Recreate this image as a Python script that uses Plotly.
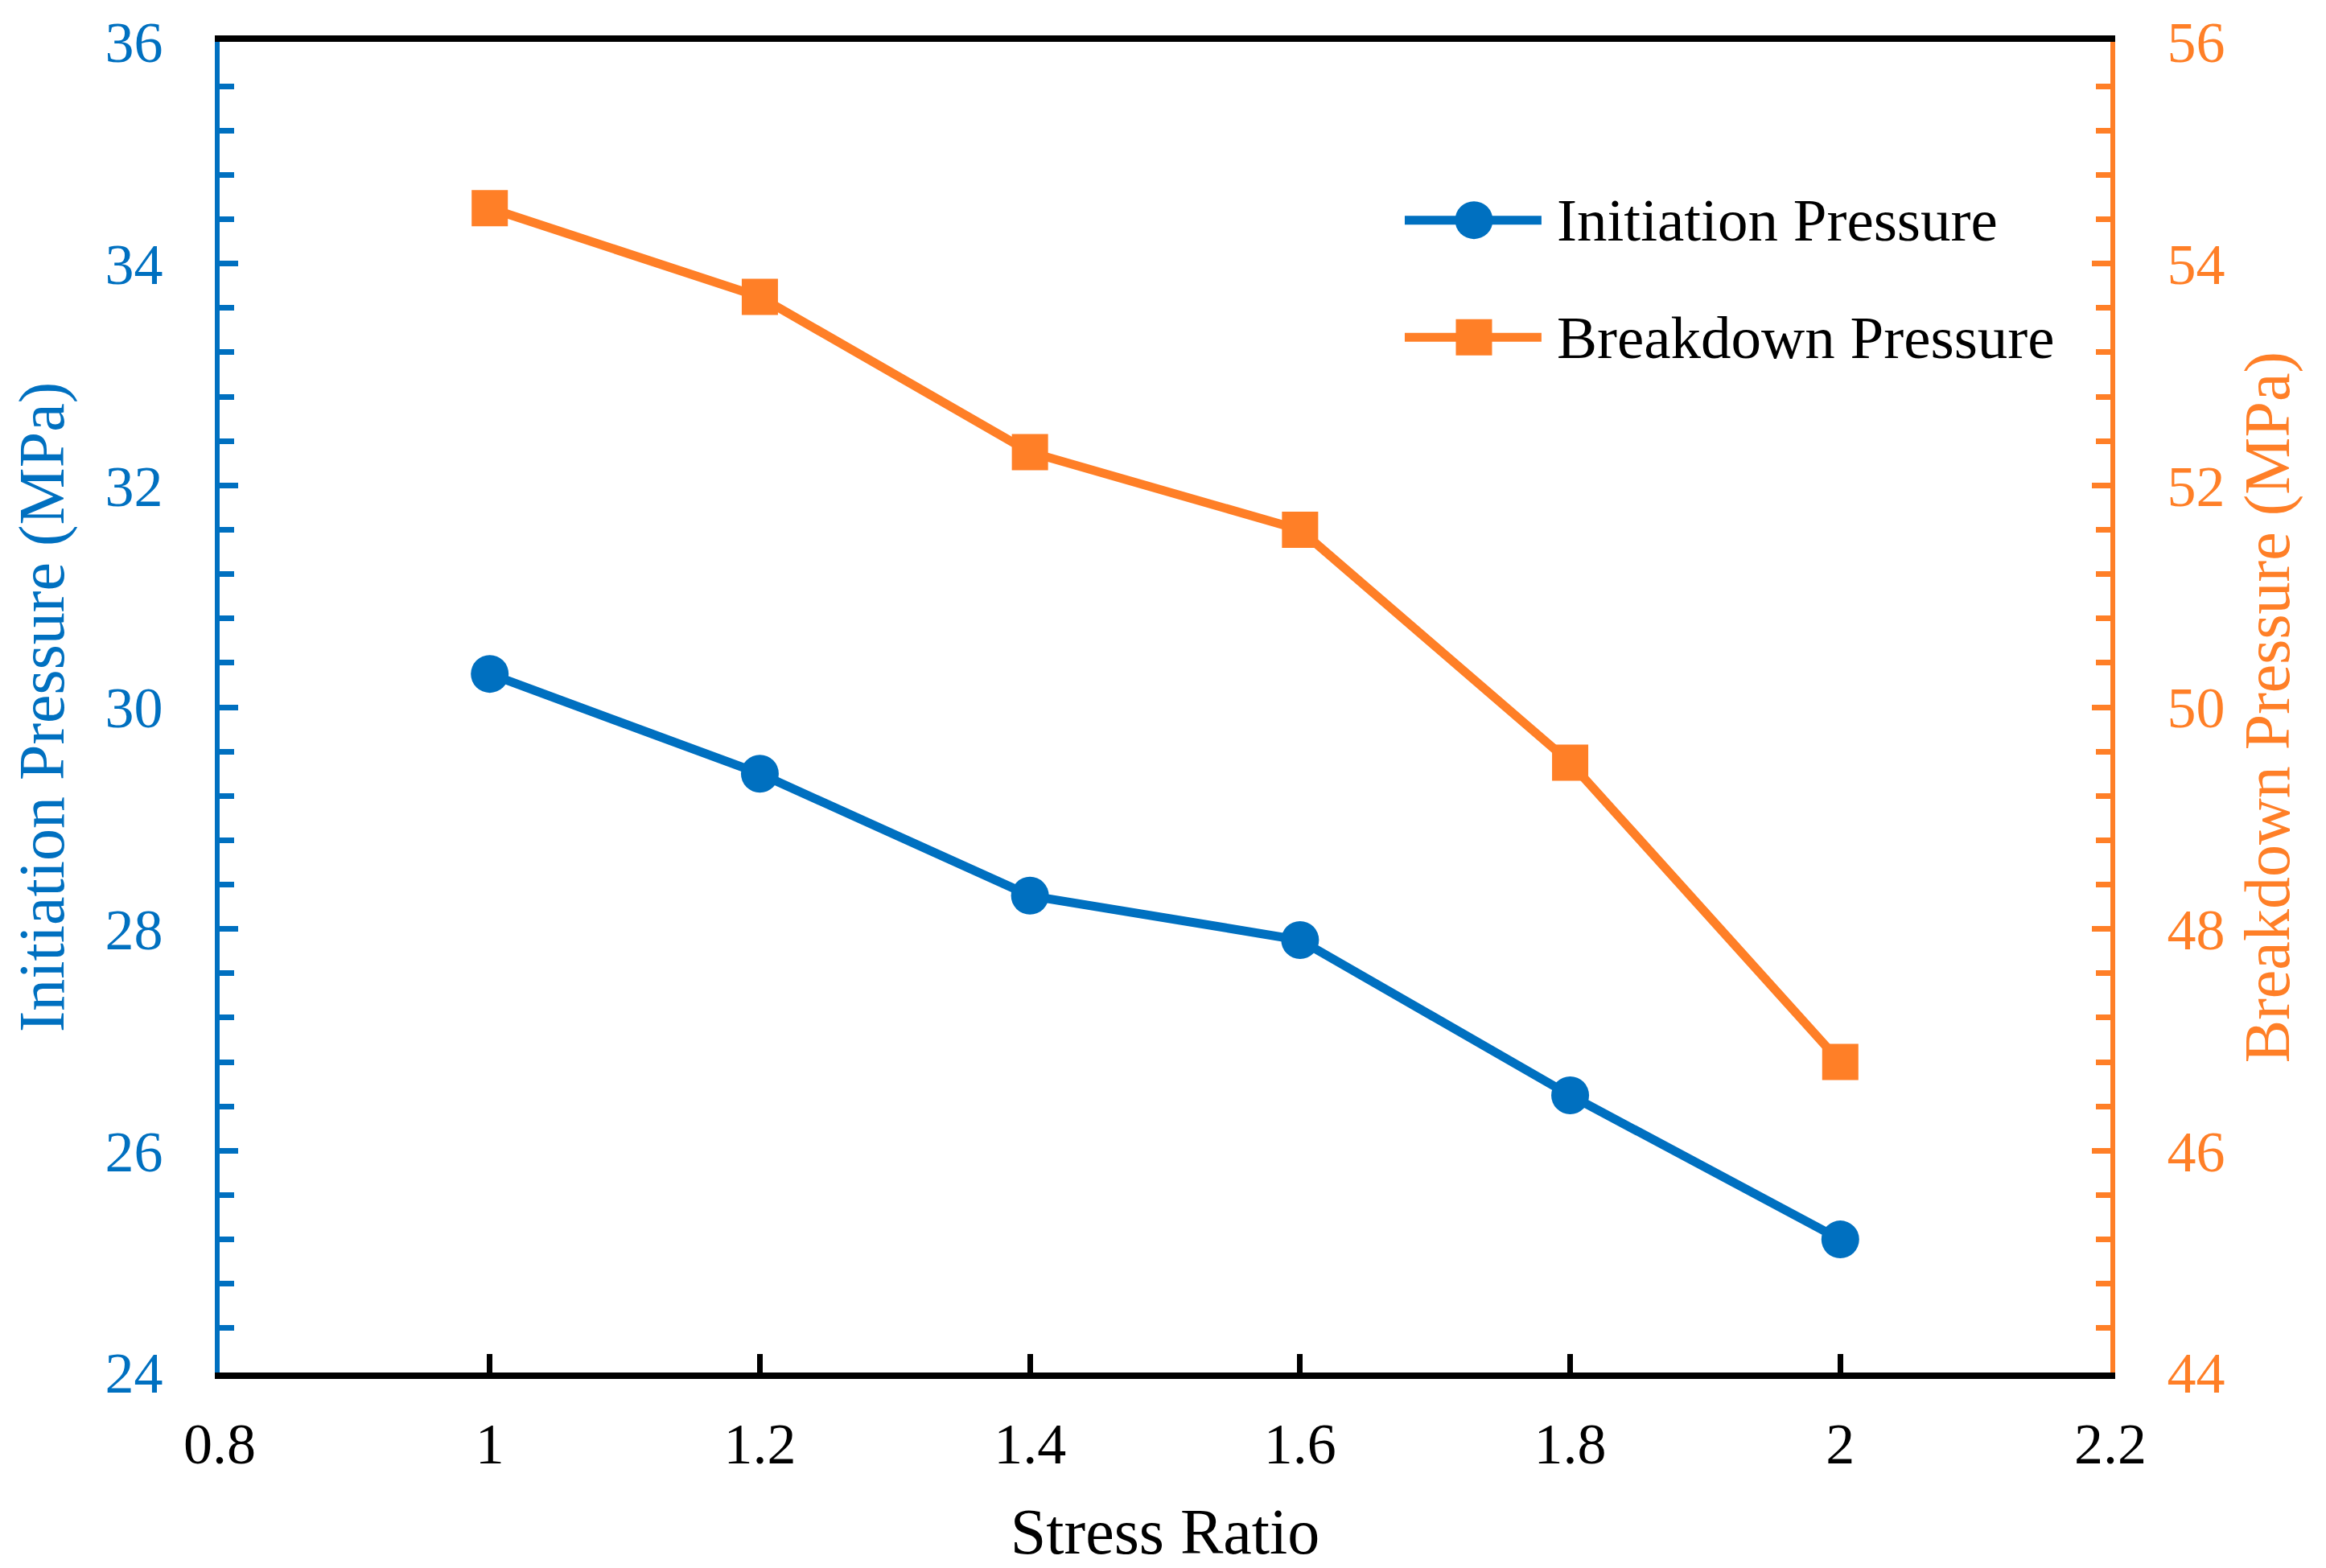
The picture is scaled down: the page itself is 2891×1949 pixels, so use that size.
import plotly.graph_objects as go

# ---------------- data ----------------
stress_ratio = [1.0, 1.2, 1.4, 1.6, 1.8, 2.0]
initiation_pressure = [30.3, 29.4, 28.3, 27.9, 26.5, 25.2]
breakdown_pressure = [54.5, 53.7, 52.3, 51.6, 49.5, 46.8]

x_tick_vals = [0.8, 1.0, 1.2, 1.4, 1.6, 1.8, 2.0, 2.2]
x_tick_text = ["0.8", "1", "1.2", "1.4", "1.6", "1.8", "2", "2.2"]
left_tick_vals = [24, 26, 28, 30, 32, 34, 36]
right_tick_vals = [44, 46, 48, 50, 52, 54, 56]

series_names = ["Initiation Pressure", "Breakdown Pressure"]

# ---------------- styles ----------------
BLUE = "#0070C0"
ORANGE = "#FF7F27"
FONT = "Liberation Serif"
TICK_SIZE = 72
TITLE_SIZE = 80
LINE_W = 11

fig = go.Figure()

fig.add_trace(go.Scatter(
    x=stress_ratio, y=initiation_pressure, name=series_names[0],
    mode="lines+markers",
    line=dict(color=BLUE, width=LINE_W),
    marker=dict(symbol="circle", size=47, color=BLUE),
    xaxis="x", yaxis="y", showlegend=False,
))
fig.add_trace(go.Scatter(
    x=stress_ratio, y=breakdown_pressure, name=series_names[1],
    mode="lines+markers",
    line=dict(color=ORANGE, width=LINE_W),
    marker=dict(symbol="square", size=45, color=ORANGE),
    xaxis="x", yaxis="y2", showlegend=False,
))

# ---------------- custom legend (drawn on hidden overlay axes in 0..1 units) ----------------
LEG_X0, LEG_XM, LEG_X1, LEG_TX = 0.6268, 0.6634, 0.6991, 0.7064
LEG_ROWS = [0.866, 0.778]
leg_styles = [(BLUE, "circle", 47), (ORANGE, "square", 45)]
for name, row, (col, sym, sz) in zip(series_names, LEG_ROWS, leg_styles):
    fig.add_trace(go.Scatter(
        x=[LEG_X0, LEG_X1], y=[row, row], mode="lines",
        line=dict(color=col, width=LINE_W), xaxis="x3", yaxis="y3",
        showlegend=False, hoverinfo="skip",
    ))
    fig.add_trace(go.Scatter(
        x=[LEG_XM], y=[row], mode="markers",
        marker=dict(symbol=sym, size=sz, color=col), xaxis="x3", yaxis="y3",
        showlegend=False, hoverinfo="skip",
    ))
    fig.add_annotation(
        x=LEG_TX, y=row, xref="paper", yref="paper", text=name,
        showarrow=False, xanchor="left", yanchor="middle",
        font=dict(family=FONT, size=75, color="black"),
    )

common_y = dict(
    ticks="inside", ticklen=23, tickwidth=6.5, showline=True, linewidth=6,
    showgrid=False, zeroline=False, tickmode="array", ticklabeloverflow="allow",
    automargin=False,
)

fig.update_layout(
    width=2891, height=1949,
    margin=dict(l=265, r=276, t=44, b=251, autoexpand=False),
    plot_bgcolor="white", paper_bgcolor="white",
    showlegend=False,
    font=dict(family=FONT),
    xaxis=dict(
        range=[0.8, 2.2], tickmode="array", tickvals=x_tick_vals, ticktext=x_tick_text,
        ticks="inside", ticklen=23, tickwidth=6.5, tickcolor="black",
        showline=True, linecolor="black", linewidth=8, mirror=True,
        showgrid=False, zeroline=False, ticklabeloverflow="allow", automargin=False,
        tickfont=dict(family=FONT, size=TICK_SIZE, color="black"),
        ticklabelstandoff=19,
        title=dict(text="Stress Ratio", font=dict(family=FONT, size=TITLE_SIZE, color="black"),
                   standoff=44),
    ),
    yaxis=dict(
        range=[24, 36], tickvals=left_tick_vals, tickcolor=BLUE, linecolor=BLUE,
        minor=dict(ticks="inside", dtick=0.4, tick0=24, ticklen=18, tickwidth=6.5,
                   tickcolor=BLUE, showgrid=False),
        tickfont=dict(family=FONT, size=TICK_SIZE, color=BLUE),
        ticklabelstandoff=50,
        title=dict(text="Initiation Pressure (MPa)",
                   font=dict(family=FONT, size=TITLE_SIZE, color=BLUE), standoff=28),
        **common_y,
    ),
    yaxis2=dict(
        range=[44, 56], tickvals=right_tick_vals, tickcolor=ORANGE, linecolor=ORANGE,
        overlaying="y", side="right",
        minor=dict(ticks="inside", dtick=0.4, tick0=44, ticklen=18, tickwidth=6.5,
                   tickcolor=ORANGE, showgrid=False),
        tickfont=dict(family=FONT, size=TICK_SIZE, color=ORANGE),
        ticklabelstandoff=50,
        title=dict(text="Breakdown Pressure (MPa)",
                   font=dict(family=FONT, size=TITLE_SIZE, color=ORANGE), standoff=27),
        **common_y,
    ),
    xaxis3=dict(overlaying="x", range=[0, 1], visible=False, anchor="y3"),
    yaxis3=dict(overlaying="y", range=[0, 1], visible=False, anchor="x3"),
)

fig.write_html("out.html")
